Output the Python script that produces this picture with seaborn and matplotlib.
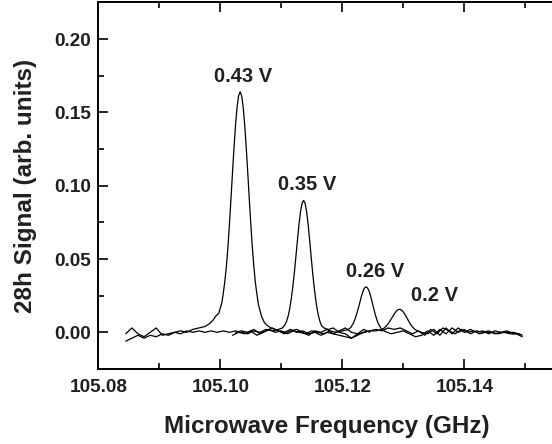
import matplotlib
matplotlib.use("Agg")
import matplotlib.pyplot as plt
from matplotlib.ticker import MultipleLocator, FormatStrFormatter
import seaborn as sns
import pandas as pd

# ---- data ----
a_x = [105.0845, 105.0855, 105.0865, 105.0875, 105.0885, 105.0895, 105.0905, 105.0915,
       105.0925, 105.0935, 105.0945, 105.0955, 105.0965, 105.0975, 105.09825, 105.09875,
       105.09925, 105.09975, 105.10025, 105.1005, 105.10075, 105.1010, 105.10125, 105.1015,
       105.10175, 105.1020, 105.10225, 105.1025, 105.10275, 105.1030, 105.10325, 105.1035,
       105.10375, 105.1040, 105.10425, 105.1045, 105.10475, 105.1050, 105.10525, 105.1055,
       105.10575, 105.1060, 105.10625, 105.10675, 105.10725, 105.10775, 105.1083, 105.1090,
       105.1095, 105.1105, 105.1115, 105.1125, 105.1135, 105.1145, 105.1155, 105.1165,
       105.1175, 105.1185, 105.1195, 105.1205, 105.1215, 105.1225, 105.1235, 105.1245]
a_y = [-0.001, 0.003, -0.001, -0.003, 0.000, 0.003, -0.002, -0.001,
       0.000, 0.001, 0.000, 0.002, 0.003, 0.004, 0.006, 0.008,
       0.011, 0.013, 0.020, 0.027, 0.035, 0.045, 0.058, 0.074,
       0.091, 0.109, 0.126, 0.1415, 0.1536, 0.1613, 0.164, 0.1613,
       0.1536, 0.1415, 0.126, 0.109, 0.091, 0.074, 0.058, 0.045,
       0.034, 0.026, 0.019, 0.011, 0.0065, 0.0045, 0.003, 0.002,
       0.001, -0.001, 0.001, 0.002, 0.000, -0.002, 0.001, 0.000,
       0.002, -0.001, 0.001, 0.003, 0.000, -0.001, 0.002, 0.000]

b_x = [105.0845, 105.0855, 105.0865, 105.0875, 105.0885, 105.0895, 105.0905, 105.0915,
       105.0925, 105.0935, 105.0945, 105.0955, 105.0965, 105.0975, 105.0985, 105.0995,
       105.1005, 105.1015, 105.1025, 105.1035, 105.1045, 105.1055, 105.1065, 105.1075,
       105.1085, 105.1095, 105.1102, 105.11065, 105.1109, 105.11115, 105.1114, 105.11165,
       105.1119, 105.11215, 105.1124, 105.11265, 105.1129, 105.11315, 105.1134, 105.11365,
       105.1139, 105.11415, 105.1144, 105.11465, 105.1149, 105.11515, 105.1154, 105.11565,
       105.1159, 105.11615, 105.1164, 105.11665, 105.1172, 105.1178, 105.1185, 105.1195,
       105.1205, 105.1215, 105.1225, 105.1235, 105.1245, 105.1255, 105.1265, 105.1275,
       105.1285, 105.1295, 105.1305, 105.1315, 105.1325, 105.1335, 105.1345, 105.1355,
       105.1365, 105.1375, 105.1385, 105.1395, 105.1405, 105.1415, 105.1425, 105.1435,
       105.1445, 105.1455, 105.1465, 105.1475, 105.1485, 105.1495]
b_y = [-0.006, -0.004, -0.002, -0.004, -0.002, -0.003, -0.001, -0.002,
       0.000, -0.001, 0.001, 0.000, 0.001, 0.000, 0.001, 0.000,
       0.001, 0.000, 0.001, 0.000, -0.001, 0.001, 0.000, 0.002,
       0.001, 0.002, 0.003, 0.0055, 0.0079, 0.0115, 0.0166, 0.0234,
       0.0315, 0.0411, 0.0519, 0.0631, 0.0735, 0.0823, 0.0880, 0.090,
       0.0880, 0.0823, 0.0735, 0.0629, 0.0514, 0.0401, 0.0305, 0.0220,
       0.0152, 0.0102, 0.0066, 0.0042, 0.0025, 0.002, 0.003, 0.000,
       -0.001, -0.004, -0.002, 0.000, 0.001, 0.002, 0.001, 0.003,
       0.002, 0.003, 0.001, -0.001, 0.001, -0.002, 0.002, -0.001,
       0.003, 0.001, -0.001, 0.002, 0.000, 0.001, -0.001, 0.000,
       0.000, -0.001, 0.000, -0.001, -0.001, -0.003]

c_x = [105.1020, 105.1030, 105.1040, 105.1050, 105.1060, 105.1070, 105.1080, 105.1090,
       105.1100, 105.1110, 105.1120, 105.1130, 105.1140, 105.1150, 105.1160, 105.1170,
       105.1180, 105.1190, 105.1200, 105.1209, 105.1214, 105.1219, 105.12215, 105.1224,
       105.12265, 105.1229, 105.12315, 105.1234, 105.12365, 105.1239, 105.12415, 105.1244,
       105.12465, 105.1249, 105.12515, 105.1254, 105.12565, 105.1259, 105.1264, 105.1269,
       105.1280, 105.1290, 105.1300, 105.1310, 105.1320, 105.1330, 105.1340, 105.1350,
       105.1360, 105.1370, 105.1380, 105.1390, 105.1400, 105.1410, 105.1420, 105.1430,
       105.1440, 105.1450, 105.1460, 105.1470, 105.1480, 105.1490, 105.1495]
c_y = [-0.002, 0.000, -0.001, 0.001, -0.002, 0.000, 0.002, 0.000,
       0.001, -0.001, 0.001, 0.000, -0.001, 0.001, 0.000, -0.001,
       0.001, 0.000, 0.001, 0.0018, 0.0033, 0.0069, 0.0098, 0.0132,
       0.0168, 0.0208, 0.0248, 0.0281, 0.0303, 0.031, 0.0302, 0.0280,
       0.0246, 0.0205, 0.0163, 0.0122, 0.0088, 0.0059, 0.0023, 0.0008,
       -0.001, 0.000, 0.001, -0.001, -0.003, -0.002, 0.001, -0.002,
       0.002, -0.001, 0.003, 0.000, 0.002, -0.001, 0.001, 0.000,
       0.001, -0.001, 0.000, 0.001, -0.001, -0.001, -0.002]

d_x = [105.1025, 105.1035, 105.1045, 105.1055, 105.1065, 105.1075, 105.1085, 105.1095,
       105.1105, 105.1115, 105.1125, 105.1135, 105.1145, 105.1155, 105.1165, 105.1175,
       105.1185, 105.1195, 105.1205, 105.1215, 105.1225, 105.1235, 105.1245, 105.1255,
       105.1264, 105.1269, 105.1274, 105.12765, 105.1279, 105.12815, 105.1284, 105.12865,
       105.1289, 105.12915, 105.1294, 105.12965, 105.1299, 105.13015, 105.1304, 105.13065,
       105.1309, 105.13115, 105.1314, 105.1319, 105.1324, 105.1330, 105.1340, 105.1350,
       105.1360, 105.1370, 105.1380, 105.1390, 105.1400, 105.1410, 105.1420, 105.1430,
       105.1440, 105.1450, 105.1460, 105.1470, 105.1480, 105.1490]
d_y = [0.000, 0.001, 0.000, 0.002, -0.001, 0.001, 0.003, 0.001,
       0.000, 0.002, 0.000, 0.001, -0.001, 0.000, -0.002, 0.000,
       -0.001, -0.002, -0.003, -0.004, -0.001, 0.000, 0.001, 0.001,
       0.0018, 0.0030, 0.0052, 0.0067, 0.0083, 0.0100, 0.0117, 0.0134,
       0.0146, 0.0155, 0.0157, 0.0154, 0.01446, 0.0130, 0.0113, 0.0094,
       0.0075, 0.0057, 0.0042, 0.0020, 0.0008, 0.000, -0.001, 0.002,
       -0.002, 0.003, -0.001, 0.003, 0.000, 0.002, 0.000, 0.001,
       -0.001, 0.001, 0.000, 0.000, 0.000, -0.001]

trace_labels = ["0.43 V", "0.35 V", "0.26 V", "0.2 V"]
label_x = [105.1037, 105.1142, 105.1254, 105.1351]
label_y = [0.1707, 0.0971, 0.0377, 0.0214]

x_ticks = [105.08, 105.10, 105.12, 105.14]
y_ticks = [0.00, 0.05, 0.10, 0.15, 0.20]
x_label = "Microwave Frequency (GHz)"
y_label = "28h Signal (arb. units)"

# ---- plotting ----
sns.set_theme(style="ticks")
plt.rcParams["font.family"] = ["Liberation Sans", "DejaVu Sans"]
plt.rcParams["font.weight"] = "bold"

txt = "#231f20"
fig = plt.figure(figsize=(5.52, 4.44), dpi=100)
ax = fig.add_axes([98.3 / 552, 75.0 / 444, (555.8 - 98.3) / 552, (369.0 - 2.4) / 444])

frames = []
for name, xs, ys in zip(trace_labels, [a_x, b_x, c_x, d_x], [a_y, b_y, c_y, d_y]):
    frames.append(pd.DataFrame({"freq": xs, "signal": ys, "trace": name}))
df = pd.concat(frames, ignore_index=True)

for name in trace_labels:
    sub = df[df["trace"] == name]
    sns.lineplot(data=sub, x="freq", y="signal", color="black", lw=0.9,
                 sort=False, estimator=None, ax=ax)

for t, xx, yy in zip(trace_labels, label_x, label_y):
    ax.text(xx, yy, t, ha="center", va="baseline", fontsize=14.5,
            fontweight="bold", color=txt)

ax.set_xlim(105.08, 105.155)
ax.set_ylim(-0.025, 0.225)
ax.set_xticks(x_ticks)
ax.set_yticks(y_ticks)
ax.xaxis.set_major_formatter(FormatStrFormatter("%.2f"))
ax.yaxis.set_major_formatter(FormatStrFormatter("%.2f"))
ax.xaxis.set_minor_locator(MultipleLocator(0.01))
ax.yaxis.set_minor_locator(MultipleLocator(0.025))

for s in ax.spines.values():
    s.set_linewidth(1.4)
    s.set_color("black")

ax.tick_params(which="major", direction="in", length=7, width=1.2,
               top=True, right=False, labelsize=13.7, colors="black",
               labelcolor=txt)
ax.tick_params(which="minor", direction="in", length=4, width=1.2,
               top=True, right=False, colors="black")
ax.tick_params(axis="y", which="major", pad=5.5)
ax.tick_params(axis="x", which="major", pad=7)
for lab in ax.get_xticklabels() + ax.get_yticklabels():
    lab.set_fontweight("bold")

ax.set_xlabel(x_label, fontsize=17.5, fontweight="bold", color=txt, labelpad=14)
ax.set_ylabel(y_label, fontsize=17.5, fontweight="bold", color=txt, labelpad=12)

fig.savefig("out.png", dpi=100)
